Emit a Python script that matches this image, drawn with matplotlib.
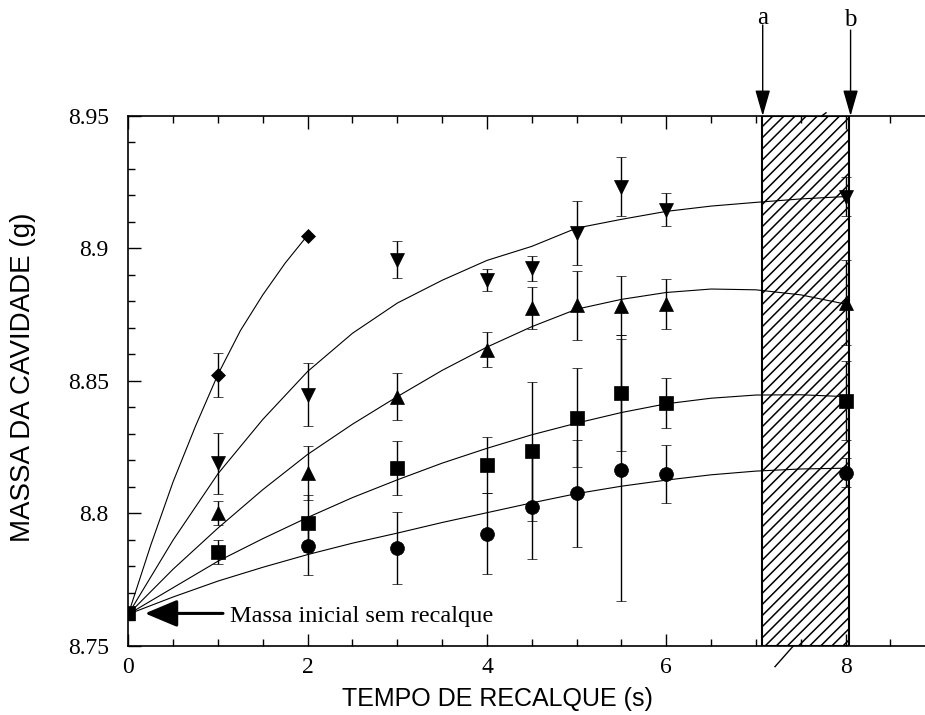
import matplotlib
matplotlib.use("Agg")
import matplotlib.pyplot as plt
import matplotlib.transforms as mtransforms

## measured points (time in s, mass in g, +/- error)
t_circle = [2, 3, 4, 4.5, 5, 5.5, 6, 8]
m_circle = [8.7877, 8.7870, 8.7923, 8.8026, 8.8077, 8.8165, 8.8148, 8.8154]
e_circle = [0.011, 0.0137, 0.0153, 0.0197, 0.0202, 0.0495, 0.011, 0.0055]

t_square = [0, 1, 2, 3, 4, 4.5, 5, 5.5, 6, 8]
m_square = [8.7623, 8.7856, 8.7963, 8.8171, 8.8183, 8.8234, 8.8362, 8.8454, 8.8416, 8.8426]
e_square = [0, 0.0045, 0.0107, 0.0101, 0.0105, 0.0264, 0.0187, 0.022, 0.0095, 0.015]

t_up = [1, 2, 3, 4, 4.5, 5, 5.5, 6, 8]
m_up = [8.8001, 8.8152, 8.8441, 8.8618, 8.8775, 8.8785, 8.8784, 8.8791, 8.8796]
e_up = [0.0045, 0.0101, 0.0088, 0.0067, 0.008, 0.0129, 0.0112, 0.0095, 0.016]

t_down = [1, 2, 3, 4, 4.5, 5, 5.5, 6, 8]
m_down = [8.8190, 8.8448, 8.8958, 8.8882, 8.8926, 8.9058, 8.9233, 8.9146, 8.9196]
e_down = [0.0115, 0.0118, 0.0071, 0.0041, 0.0047, 0.012, 0.0112, 0.0063, 0.0075]

t_diamond = [1, 2]
m_diamond = [8.8523, 8.9048]
e_diamond = [0.0083, 0]

## fitted curves
fit_t = [0, 0.5, 1, 1.5, 2, 2.5, 3, 3.5, 4, 4.5, 5, 5.5, 6, 6.5, 7, 7.5, 8]
fit_circle = [8.762, 8.7685, 8.7745, 8.7797, 8.7845, 8.7888, 8.7926, 8.7966, 8.8003,
              8.804, 8.8075, 8.8103, 8.8126, 8.8146, 8.816, 8.8168, 8.8171]
fit_square = [8.762, 8.772, 8.782, 8.7905, 8.7985, 8.806, 8.8127, 8.819, 8.8246,
              8.8297, 8.8341, 8.8381, 8.8414, 8.8435, 8.8447, 8.8448, 8.8441]
fit_up = [8.762, 8.779, 8.7945, 8.809, 8.8223, 8.8337, 8.8441, 8.854, 8.8628,
          8.8705, 8.8771, 8.8808, 8.8834, 8.8847, 8.8844, 8.8825, 8.879]
fit_down = [8.762, 8.790, 8.815, 8.8355, 8.8536, 8.868, 8.8794, 8.888, 8.8955,
            8.9008, 8.9077, 8.911, 8.914, 8.916, 8.9174, 8.9187, 8.9196]
fit_t_diamond = [0, 0.25, 0.5, 0.75, 1, 1.25, 1.5, 1.75, 2]
fit_diamond = [8.762, 8.788, 8.812, 8.833, 8.8525, 8.869, 8.8825, 8.8945, 8.905]

## shaded interval a-b
band = [7.07, 8.035]
arrow_a = 7.075
arrow_b = 8.055

xticks = [0, 2, 4, 6, 8]
xticklabels = ["0", "2", "4", "6", "8"]
yticks = [8.75, 8.80, 8.85, 8.90, 8.95]
yticklabels = ["8.75", "8.8", "8.85", "8.9", "8.95"]

serif = "Liberation Serif"
sans = "Liberation Sans"

plt.rcParams["hatch.linewidth"] = 1.1

fig = plt.figure(figsize=(9.25, 7.15), dpi=100)
ax = fig.add_axes([0.1387, 0.0965, 0.8613, 0.7413])
ax.set_xlim(0, 8.885)
ax.set_ylim(8.75, 8.95)

## hatched band
ax.axvspan(band[0], band[1], facecolor="none", edgecolor="k", hatch="///",
           linewidth=1.5, zorder=1)

## fitted curves
for ys in [fit_circle, fit_square, fit_up, fit_down]:
    ax.plot(fit_t, ys, color="k", lw=0.8, zorder=2)
ax.plot(fit_t_diamond, fit_diamond, color="k", lw=0.8, zorder=2)

## data with error bars
series = [
    (t_circle, m_circle, e_circle, "o", 10),
    (t_square, m_square, e_square, "s", 10),
    (t_up, m_up, e_up, "^", 9.5),
    (t_down, m_down, e_down, "v", 9.5),
    (t_diamond, m_diamond, e_diamond, "D", 7.5),
]
for t, m, e, mk, ms in series:
    ax.errorbar(t, m, yerr=e, fmt=mk, ms=ms, color="k", mec="k", mew=0.5,
                ecolor="k", elinewidth=1, capsize=3.3, capthick=1, zorder=3)

## ticks and spines
ax.spines["right"].set_visible(False)
for s in ["left", "bottom", "top"]:
    ax.spines[s].set_linewidth(1.2)
ax.set_xticks(xticks)
ax.set_xticklabels(xticklabels, fontname=serif, fontsize=17)
ax.set_xticks([0.5, 1, 1.5, 2.5, 3, 3.5, 4.5, 5, 5.5, 6.5, 7, 7.5, 8.5], minor=True)
ax.set_yticks(yticks)
ax.set_yticklabels(yticklabels, fontname=serif, fontsize=17)
ax.set_yticks([8.76, 8.77, 8.78, 8.79, 8.81, 8.82, 8.83, 8.84, 8.86, 8.87, 8.88,
               8.89, 8.91, 8.92, 8.93, 8.94], minor=True)
ax.tick_params(which="both", direction="in", top=True, right=False, width=1)
ax.tick_params(which="major", length=9)
ax.tick_params(which="minor", length=5)
ax.tick_params(axis="x", pad=8)
ax.tick_params(axis="y", pad=14)

fig.text(23 / 925, 1 - 377 / 715, "MASSA DA CAVIDADE (g)", rotation=90,
         ha="center", va="center", fontname=sans, fontsize=20)
fig.text(497 / 925, 1 - 699 / 715, "TEMPO DE RECALQUE (s)",
         ha="center", va="center", fontname=sans, fontsize=18)

## initial mass annotation
ax.annotate("", xy=(0.186, 8.7623), xytext=(1.056, 8.7623),
            arrowprops=dict(arrowstyle="-|>,head_length=1.0,head_width=0.42",
                            mutation_scale=20, lw=2.2, color="k",
                            shrinkA=0, shrinkB=0))
ax.text(1.136, 8.7592, "Massa inicial sem recalque", fontname=serif,
        fontsize=17.5, ha="left", va="baseline")

## arrows a and b above the plot
trans = mtransforms.blended_transform_factory(ax.transData, ax.transAxes)
for xa, y0, lab, ylab in [(arrow_a, 1.1717, "a", 1.185), (arrow_b, 1.162, "b", 1.181)]:
    ax.annotate("", xy=(xa, 1.0), xytext=(xa, y0), xycoords=trans, textcoords=trans,
                arrowprops=dict(arrowstyle="-|>,head_length=0.8,head_width=0.23",
                                mutation_scale=20, lw=1, color="k",
                                shrinkA=0, shrinkB=0), annotation_clip=False)
    ax.text(xa, ylab, lab, transform=trans, fontname=serif, fontsize=18,
            ha="center", va="center", clip_on=False)

## small break strokes on the band
ax.plot([7.733, 7.781], [8.95, 8.9512], color="k", lw=1, clip_on=False)
ax.plot([7.212, 7.416], [8.7422, 8.75], color="k", lw=1, clip_on=False)

fig.savefig("out.png", dpi=100)
